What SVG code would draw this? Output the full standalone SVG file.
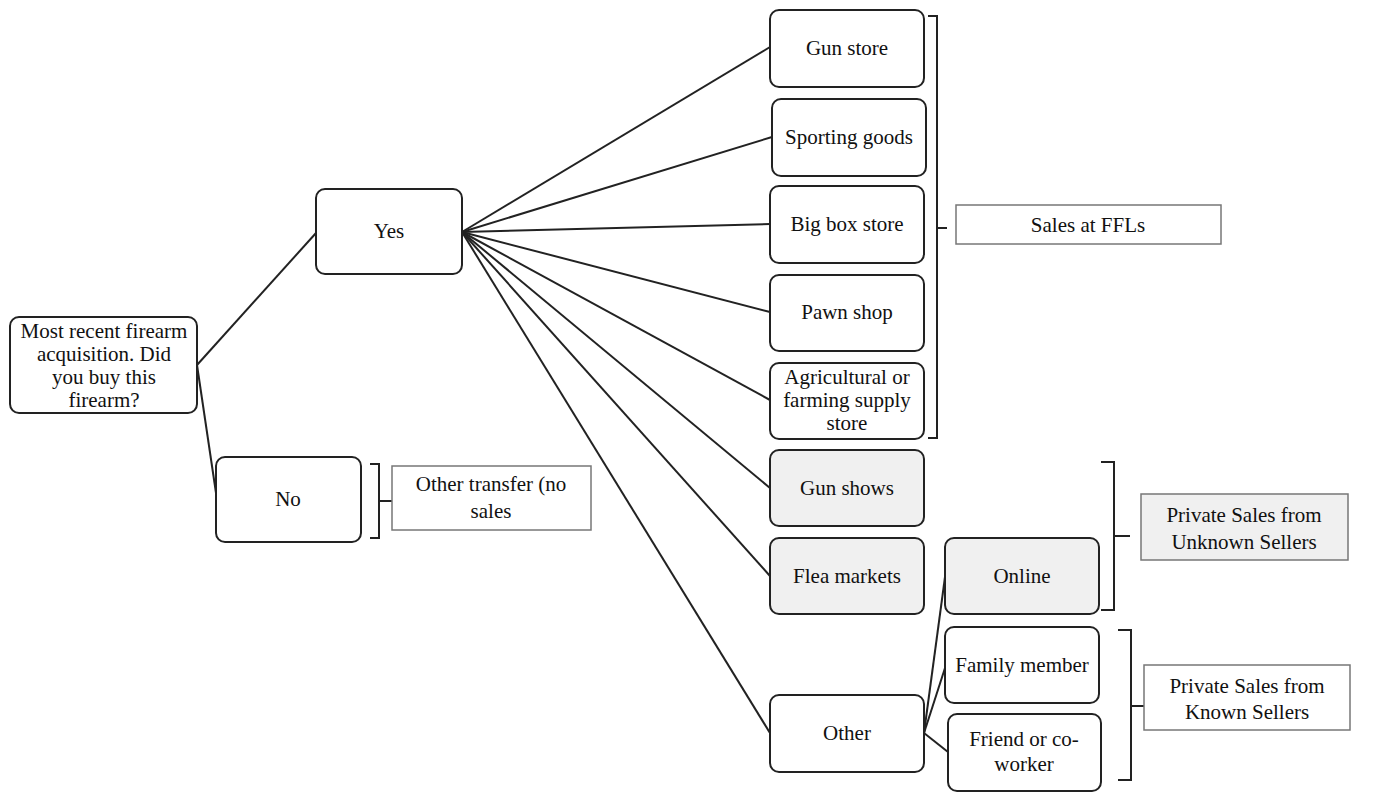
<svg xmlns="http://www.w3.org/2000/svg" width="1381" height="803" viewBox="0 0 1381 803">
<style>
.n{fill:#fff;stroke:#222;stroke-width:2}
.g{fill:#f0f0f0;stroke:#222;stroke-width:2}
.s{fill:#fff;stroke:#777;stroke-width:1.5}
.sg{fill:#f0f0f0;stroke:#777;stroke-width:1.5}
.c{fill:none;stroke:#222;stroke-width:2}
text{font-family:"Liberation Serif","Times New Roman",serif;font-size:21px;fill:#111;text-anchor:middle}
</style>
<rect width="1381" height="803" fill="#fff"/>
<g id="connectors" class="c">
<line x1="197" y1="365" x2="316" y2="233"/>
<line x1="197" y1="365" x2="216" y2="493"/>
<line x1="462" y1="232" x2="770" y2="47"/>
<line x1="462" y1="232" x2="772" y2="137"/>
<line x1="462" y1="232" x2="770" y2="224"/>
<line x1="462" y1="232" x2="770" y2="312"/>
<line x1="462" y1="232" x2="770" y2="400"/>
<line x1="462" y1="232" x2="770" y2="488"/>
<line x1="462" y1="232" x2="770" y2="576"/>
<line x1="462" y1="232" x2="770" y2="733"/>
<line x1="924" y1="733" x2="945" y2="577"/>
<line x1="924" y1="733" x2="945" y2="668"/>
<line x1="924" y1="733" x2="948" y2="752"/>
<path d="M928,16 H937 V438 H928 M937,228 H947"/>
<path d="M370,464 H379 V538 H370 M379,501 H392"/>
<path d="M1101,462 H1114 V610 H1101 M1114,536 H1130"/>
<path d="M1118,630 H1131 V780 H1118 M1131,706 H1144"/>
</g>
<g id="root"><rect class="n" x="10" y="317" width="187" height="96" rx="9"/>
<text x="104" y="338">Most recent firearm</text><text x="104" y="361">acquisition. Did</text><text x="104" y="384">you buy this</text><text x="104" y="407">firearm?</text></g>
<g id="yes"><rect class="n" x="316" y="189" width="146" height="85" rx="9"/><text x="389" y="238">Yes</text></g>
<g id="no"><rect class="n" x="216" y="457" width="145" height="85" rx="9"/><text x="288" y="506">No</text></g>
<g id="other-transfer"><rect class="s" x="392" y="466" width="199" height="64"/><text x="491" y="491">Other transfer (no</text><text x="491" y="518">sales</text></g>
<g id="gun-store"><rect class="n" x="770" y="10" width="154" height="77" rx="9"/><text x="847" y="55">Gun store</text></g>
<g id="sporting"><rect class="n" x="772" y="99" width="154" height="77" rx="9"/><text x="849" y="144">Sporting goods</text></g>
<g id="big-box"><rect class="n" x="770" y="186" width="154" height="77" rx="9"/><text x="847" y="231">Big box store</text></g>
<g id="pawn"><rect class="n" x="770" y="275" width="154" height="76" rx="9"/><text x="847" y="319">Pawn shop</text></g>
<g id="agri"><rect class="n" x="770" y="363" width="154" height="76" rx="9"/><text x="847" y="384">Agricultural or</text><text x="847" y="407">farming supply</text><text x="847" y="430">store</text></g>
<g id="ffl"><rect class="s" x="956" y="205" width="265" height="39"/><text x="1088" y="232">Sales at FFLs</text></g>
<g id="gun-shows"><rect class="g" x="770" y="450" width="154" height="76" rx="9"/><text x="847" y="495">Gun shows</text></g>
<g id="flea"><rect class="g" x="770" y="538" width="154" height="76" rx="9"/><text x="847" y="583">Flea markets</text></g>
<g id="other"><rect class="n" x="770" y="695" width="154" height="77" rx="9"/><text x="847" y="740">Other</text></g>
<g id="online"><rect class="g" x="945" y="538" width="154" height="76" rx="9"/><text x="1022" y="583">Online</text></g>
<g id="family"><rect class="n" x="945" y="627" width="154" height="76" rx="9"/><text x="1022" y="672">Family member</text></g>
<g id="friend"><rect class="n" x="948" y="714" width="153" height="77" rx="9"/><text x="1024" y="746">Friend or co-</text><text x="1024" y="771">worker</text></g>
<g id="unknown"><rect class="sg" x="1141" y="494" width="207" height="66"/><text x="1244" y="522">Private Sales from</text><text x="1244" y="549">Unknown Sellers</text></g>
<g id="known"><rect class="s" x="1144" y="665" width="206" height="65"/><text x="1247" y="693">Private Sales from</text><text x="1247" y="719">Known Sellers</text></g>
</svg>
